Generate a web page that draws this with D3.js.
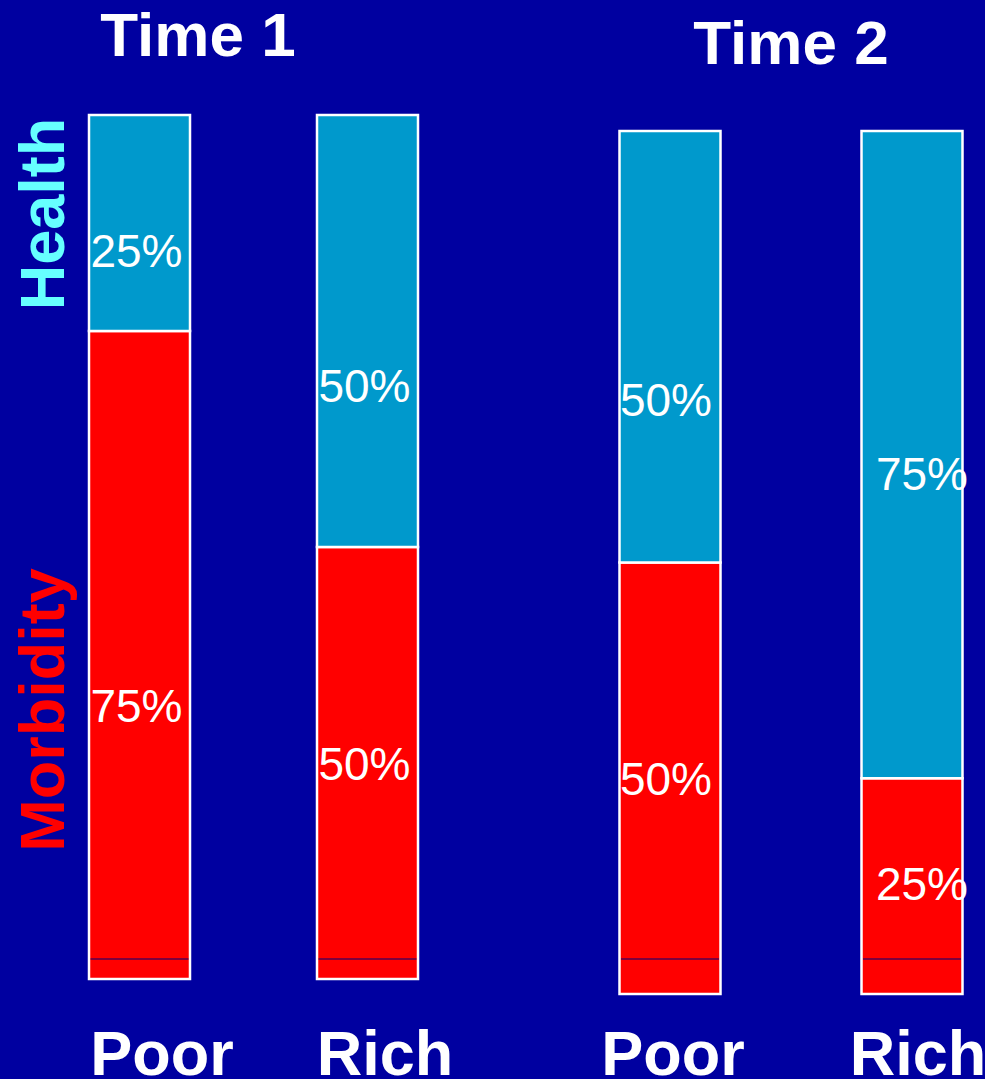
<!DOCTYPE html>
<html>
<head>
<meta charset="utf-8">
<script src="https://cdn.jsdelivr.net/npm/d3@7"></script>
<style>
  html, body { margin: 0; padding: 0; background: #0000A0; }
  svg { display: block; }
</style>
</head>
<body>
<svg id="chart" width="985" height="1079"></svg>
<script>
// Share of people in health vs. morbidity, by income group, at two time points
const periods = ["Time 1", "Time 2"];
const classes = ["Poor", "Rich"];
const barKeys = ["Time 1|Poor", "Time 1|Rich", "Time 2|Poor", "Time 2|Rich"];
const morbidity = [75, 50, 50, 25];   // % (lower, red segment)
const health = [25, 50, 50, 75];      // % (upper, blue segment)
const seriesNames = ["Morbidity", "Health"];

// Layout
const W = 985, H = 1079;
const barWidth = 101;
const barCenters = [139.5, 367.5, 670, 912];
const panelRange = { "Time 1": [979, 115], "Time 2": [994, 131] };
const titleX = { "Time 1": 198, "Time 2": 791 };
const titleY = { "Time 1": 56, "Time 2": 64 };
const catLabelX = [162, 385, 673, 918];
const labelDx = [-3, -3, -4, 10];
const labelDyHealth = [27, 54, 53, 19];
const labelDyMorb = [50, 0, 0, -3];
const innerRuleY = 959;

const colors = { Morbidity: "#FF0000", Health: "#0099CC" };
const labelColors = { Morbidity: "#FF0000", Health: "#66FFFF" };

const svg = d3.select("#chart");
svg.append("rect").attr("width", W).attr("height", H).attr("fill", "#0000A0");

const xCenter = d3.scaleOrdinal().domain(barKeys).range(barCenters);
const yScales = {};
periods.forEach(p => {
  yScales[p] = d3.scaleLinear().domain([0, 100]).range(panelRange[p]);
});

const rows = barKeys.map((k, i) => ({ key: k, period: k.split("|")[0], cls: k.split("|")[1],
  Morbidity: morbidity[i], Health: health[i], i }));
const stack = d3.stack().keys(seriesNames)(rows);

const font = "'Liberation Sans', Arial, Helvetica, sans-serif";

// Stacked segments
stack.forEach(layer => {
  const name = layer.key;
  svg.append("g").selectAll("rect").data(layer).join("rect")
    .attr("x", d => xCenter(d.data.key) - barWidth / 2)
    .attr("width", barWidth)
    .attr("y", d => yScales[d.data.period](d[1]))
    .attr("height", d => yScales[d.data.period](d[0]) - yScales[d.data.period](d[1]))
    .attr("fill", colors[name])
    .attr("stroke", "#FFFFFF")
    .attr("stroke-width", 2.5);
});

// Thin rule near the base of each bar
svg.append("g").selectAll("line").data(rows).join("line")
  .attr("x1", d => xCenter(d.key) - barWidth / 2 + 1.5)
  .attr("x2", d => xCenter(d.key) + barWidth / 2 - 1.5)
  .attr("y1", innerRuleY).attr("y2", innerRuleY)
  .attr("stroke", "#00007A").attr("stroke-width", 1.2);

// Percentage labels
stack.forEach(layer => {
  const name = layer.key;
  const dy = name === "Health" ? labelDyHealth : labelDyMorb;
  svg.append("g").selectAll("text").data(layer).join("text")
    .attr("x", d => xCenter(d.data.key) + labelDx[d.data.i])
    .attr("y", d => {
      const y = yScales[d.data.period];
      return (y(d[0]) + y(d[1])) / 2 + dy[d.data.i] + 16.5;
    })
    .attr("text-anchor", "middle")
    .attr("fill", "#FFFFFF")
    .attr("font-family", font)
    .attr("font-size", 46)
    .text(d => d.data[name] + "%");
});

// Period titles
svg.append("g").selectAll("text").data(periods).join("text")
  .attr("x", p => titleX[p]).attr("y", p => titleY[p])
  .attr("text-anchor", "middle")
  .attr("fill", "#FFFFFF").attr("font-family", font)
  .attr("font-weight", "bold").attr("font-size", 62)
  .text(p => p);

// Income group labels under the bars
svg.append("g").selectAll("text").data(rows).join("text")
  .attr("x", d => catLabelX[d.i]).attr("y", 1075)
  .attr("text-anchor", "middle")
  .attr("fill", "#FFFFFF").attr("font-family", font)
  .attr("font-weight", "bold").attr("font-size", 63)
  .text(d => d.cls);

// Vertical series labels
const seriesLabelY = { Health: 214, Morbidity: 710 };
svg.append("g").selectAll("text").data(seriesNames).join("text")
  .attr("transform", s => `translate(64,${seriesLabelY[s]}) rotate(-90)`)
  .attr("text-anchor", "middle")
  .attr("fill", s => labelColors[s]).attr("font-family", font)
  .attr("font-weight", "bold").attr("font-size", 63)
  .text(s => s);
</script>
</body>
</html>
